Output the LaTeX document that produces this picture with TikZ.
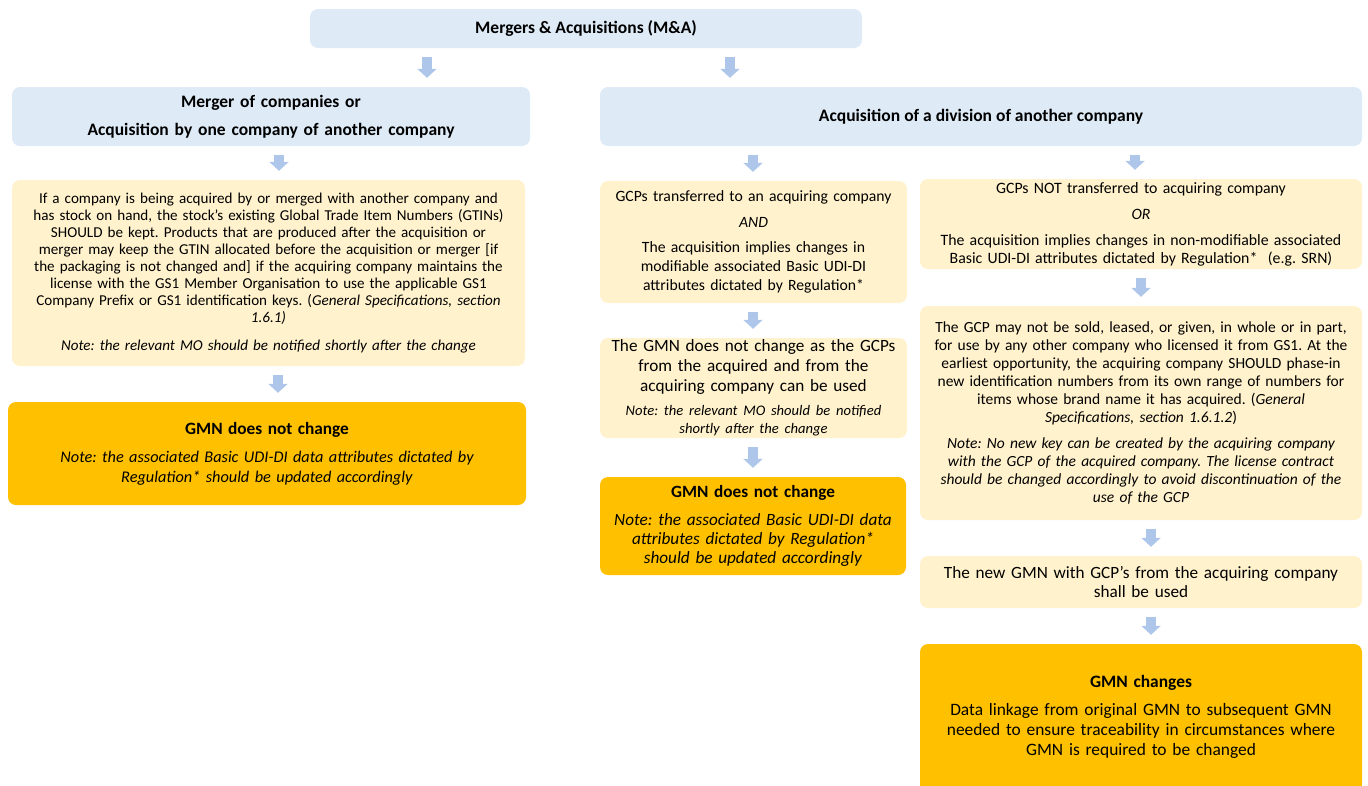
\documentclass[tikz,border=0pt]{standalone}
\usepackage{fontspec}
\setmainfont{Carlito}
\usepackage{tikz}
\usetikzlibrary{arrows.meta}
\usetikzlibrary{positioning}
\usetikzlibrary{backgrounds}
\frenchspacing

\begin{document}
\begin{tikzpicture}[x=1pt, y=-1pt,
		box/.style={rounded corners=8pt, inner sep=0pt, align=center},
		hdrbox/.style={box, fill={HDR_BLUE!100}, font=\bfseries\fontsize{17.5}{18}\selectfont},
		notebox/.style={box, fill={NOTE_YELLOW!100}},
		gmnbox/.style={box, fill={GMN_ORANGE!100}},
		flow/.style={line width={10pt}, color={ARROW_BLUE!100}, -{Triangle[width=19pt, length=9pt]},
			shorten <={9pt}, shorten >={9pt}}]
				\definecolor{HDR_BLUE}{RGB}{222, 235, 247}
				\definecolor{NOTE_YELLOW}{RGB}{255, 242, 204}
				\definecolor{GMN_ORANGE}{RGB}{255, 192, 0}
				\definecolor{ARROW_BLUE}{RGB}{173, 198, 233}
				\clip (0, 0) rectangle (1368, 785);

				% headers
				\node[hdrbox, minimum width={552pt}, minimum height={39pt}] (ma) at (586, 28.5)
					{Mergers \& Acquisitions (M\&A)};
				\node[hdrbox, minimum width={518pt}, minimum height={59pt}, text width={505pt}] (mergehdr) at (271, 116.5)
					{Merger of companies or\\[10pt] Acquisition by one company of another company};
				\node[hdrbox, minimum width={762pt}, minimum height={59pt}] (acqhdr) at (981, 116.5)
					{Acquisition of a division of another company};

				% left branch
				\node[notebox, minimum width={513pt}, minimum height={186pt}, text width={505pt},
					font=\fontsize{15.1}{17}\selectfont] (mergetxt) at (268.5, 273)
					{If a company is being acquired by or merged with another company and\\
					has stock on hand, the stock’s existing Global Trade Item Numbers (GTINs)\\
					SHOULD be kept. Products that are produced after the acquisition or\\
					merger may keep the GTIN allocated before the acquisition or merger [if\\
					the packaging is not changed and] if the acquiring company maintains the\\
					license with the GS1 Member Organisation to use the applicable GS1\\
					Company Prefix or GS1 identification keys. (\textit{General Specifications, section\\
					1.6.1)}\\[11pt]
					\textit{Note: the relevant MO should be notified shortly after the change}};
				\node[gmnbox, minimum width={518pt}, minimum height={103pt}, text width={505pt},
					font=\fontsize{16.3}{20}\selectfont] (mergegmn) at (267, 453.5)
					{\textbf{\fontsize{17.3}{20}\selectfont GMN does not change}\\[8pt]
					\textit{Note: the associated Basic UDI-DI data attributes dictated by\\
					Regulation* should be updated accordingly}};

				% middle branch
				\node[notebox, minimum width={307pt}, minimum height={122pt}, text width={300pt},
					font=\fontsize{15.7}{19}\selectfont] (gcpyes) at (753.5, 242)
					{GCPs transferred to an acquiring company\\[7pt]
					\textit{AND}\\[6pt]
					The acquisition implies changes in\\
					modifiable associated Basic UDI-DI\\
					attributes dictated by Regulation*};
				\node[notebox, minimum width={307pt}, minimum height={100pt}, text width={300pt},
					font=\fontsize{17.2}{20}\selectfont] (gcpkeep) at (753.5, 388)
					{The GMN does not change as the GCPs\\
					from the acquired and from the\\
					acquiring company can be used\\[6pt]
					{\itshape\fontsize{14.6}{18}\selectfont Note: the relevant MO should be notified\\
					shortly after the change\par}};
				\node[gmnbox, minimum width={306pt}, minimum height={98pt}, text width={300pt},
					font=\fontsize{17.2}{19}\selectfont] (keepgmn) at (753, 526)
					{\textbf{GMN does not change}\\[9pt]
					\textit{Note: the associated Basic UDI-DI data\\
					attributes dictated by Regulation*\\
					should be updated accordingly}};

				% right branch
				\node[notebox, minimum width={442pt}, minimum height={90pt}, text width={435pt},
					font=\fontsize{15.8}{18}\selectfont] (gcpno) at (1141, 224)
					{GCPs NOT transferred to acquiring company\\[8pt]
					\textit{OR}\\[8pt]
					The acquisition implies changes in non-modifiable associated\\
					Basic UDI-DI attributes dictated by Regulation*\ \ (e.g. SRN)};
				\node[notebox, minimum width={442pt}, minimum height={214pt}, text width={435pt},
					font=\fontsize{15.5}{18}\selectfont] (gcprule) at (1141, 413)
					{The GCP may not be sold, leased, or given, in whole or in part,\\
					for use by any other company who licensed it from GS1. At the\\
					earliest opportunity, the acquiring company SHOULD phase-in\\
					new identification numbers from its own range of numbers for\\
					items whose brand name it has acquired. (\textit{General\\
					Specifications, section 1.6.1.2})\\[8pt]
					\textit{Note: No new key can be created by the acquiring company\\
					with the GCP of the acquired company. The license contract\\
					should be changed accordingly to avoid discontinuation of the\\
					use of the GCP}};
				\node[notebox, minimum width={442pt}, minimum height={52pt}, text width={435pt},
					font=\fontsize{17.2}{19}\selectfont] (newgmn) at (1141, 582)
					{The new GMN with GCP’s from the acquiring company\\
					shall be used};
				\node[gmnbox, minimum width={442pt}, minimum height={146pt}, text width={435pt},
					font=\fontsize{17.4}{20}\selectfont] (gmnchg) at (1141, 717)
					{\textbf{GMN changes}\\[8pt]
					Data linkage from original GMN to subsequent GMN\\
					needed to ensure traceability in circumstances where\\
					GMN is required to be changed};
				\begin{scope}[on background layer]
					\fill[GMN_ORANGE] (gmnchg.west) rectangle (gmnchg.east |- 0,800);
				\end{scope}

				% arrows
				\draw[flow] (ma.south -| 427,0) -- (mergehdr.north -| 427,0);
				\draw[flow] (ma.south -| 730,0) -- (acqhdr.north -| 730,0);
				\draw[flow] (mergehdr.south -| 279,0) -- (mergetxt.north -| 279,0);
				\draw[flow] (mergetxt.south -| 278,0) -- (mergegmn.north -| 278,0);
				\draw[flow] (acqhdr.south -| 753,0) -- (gcpyes.north -| 753,0);
				\draw[flow] (gcpyes.south -| 753,0) -- (gcpkeep.north -| 753,0);
				\draw[flow] (gcpkeep.south -| 753,0) -- (keepgmn.north -| 753,0);
				\draw[flow] (acqhdr.south -| 1135,0) -- (gcpno.north -| 1135,0);
				\draw[flow] (gcpno.south -| 1141,0) -- (gcprule.north -| 1141,0);
				\draw[flow] (gcprule.south -| 1151,0) -- (newgmn.north -| 1151,0);
				\draw[flow] (newgmn.south -| 1151,0) -- (gmnchg.north -| 1151,0);
\end{tikzpicture}
\end{document}
